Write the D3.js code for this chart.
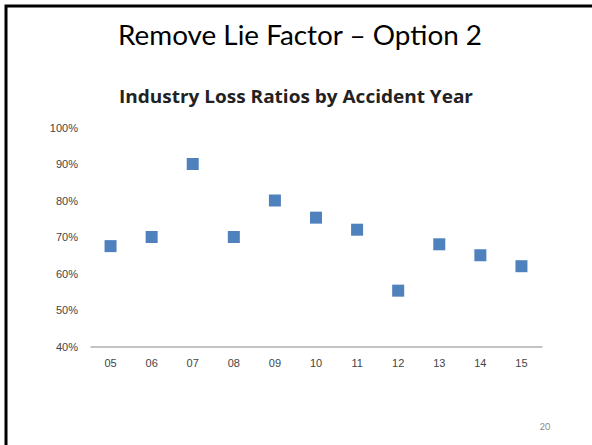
<!DOCTYPE html>
<html>
<head>
<meta charset="utf-8">
<script src="https://cdn.jsdelivr.net/npm/d3@7"></script>
<style>
  body { margin: 0; background: #fff; }
</style>
</head>
<body>
<div id="chartDiv"></div>
<script>
// Loss ratio scatter

var years = ['05', '06', '07', '08', '09', '10', '11', '12', '13', '14', '15'];
var lossRatios = [0.675, 0.70, 0.90, 0.70, 0.80, 0.753, 0.72, 0.553, 0.68, 0.65, 0.62];
var yTicks = [0.4, 0.5, 0.6, 0.7, 0.8, 0.9, 1.0];

var width = 592;
var height = 445;

var svg = d3.select('#chartDiv')
            .append('svg')
            .attr('width', width)
            .attr('height', height);

// slide border (left + top)
svg.append('path')
   .attr('d', 'M6,445 L6,6 L592,6')
   .attr('fill', 'none')
   .attr('stroke', '#000')
   .attr('stroke-width', 3);

// slide title
svg.append('text')
   .attr('x', 300)
   .attr('y', 45)
   .attr('text-anchor', 'middle')
   .attr('font-family', 'Lato, sans-serif')
   .attr('font-size', 26)
   .attr('textLength', 364)
   .attr('lengthAdjust', 'spacingAndGlyphs')
   .attr('fill', '#000')
   .text('Remove Lie Factor – Option 2');

// chart title
svg.append('text')
   .attr('x', 296)
   .attr('y', 103)
   .attr('text-anchor', 'middle')
   .attr('font-family', 'Open Sans, sans-serif')
   .attr('font-weight', 'bold')
   .attr('font-size', 18)
   .attr('textLength', 354)
   .attr('lengthAdjust', 'spacingAndGlyphs')
   .attr('fill', '#222')
   .text('Industry Loss Ratios by Accident Year');

// scales
var x = d3.scaleBand()
          .domain(years)
          .range([90, 542]);

var y = d3.scaleLinear()
          .domain([0.4, 1.0])
          .range([346.5, 127.5]);

// x axis
var xAxis = svg.append('g')
   .attr('transform', 'translate(0,346.5)')
   .call(d3.axisBottom(x).tickSize(0).tickPadding(13));
xAxis.select('.domain').attr('stroke', '#888');
xAxis.selectAll('text')
     .attr('font-family', 'Liberation Sans, sans-serif')
     .attr('font-size', 11)
     .attr('fill', '#444');

// y axis labels (no line)
var yAxis = svg.append('g')
   .attr('transform', 'translate(78,0)')
   .call(d3.axisLeft(y).tickValues(yTicks).tickFormat(d3.format('.0%')).tickSize(0).tickPadding(0));
yAxis.select('.domain').remove();
yAxis.selectAll('text')
     .attr('font-family', 'Liberation Sans, sans-serif')
     .attr('font-size', 11)
     .attr('fill', '#444');

// markers
var size = 12;
svg.selectAll('rect.pt')
   .data(lossRatios)
   .enter()
   .append('rect')
   .attr('class', 'pt')
   .attr('x', function(d, i) { return x(years[i]) + x.bandwidth() / 2 - size / 2; })
   .attr('y', function(d) { return y(d) - size / 2; })
   .attr('width', size)
   .attr('height', size)
   .attr('fill', '#4f81bd');

// page number
svg.append('text')
   .attr('x', 545)
   .attr('y', 430)
   .attr('text-anchor', 'middle')
   .attr('font-family', 'Lato, sans-serif')
   .attr('font-size', 9)
   .attr('fill', '#888')
   .text('20');
</script>
</body>
</html>
